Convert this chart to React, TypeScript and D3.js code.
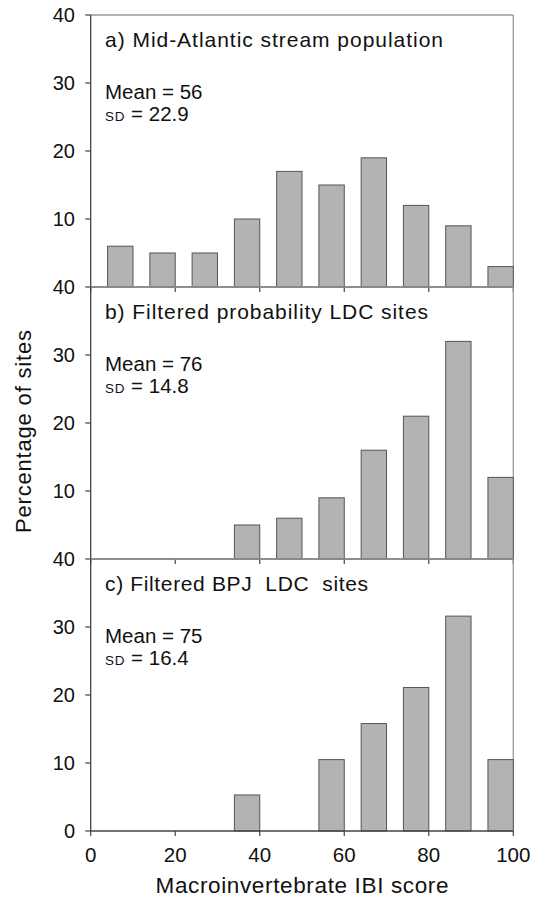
import React from 'react';
import * as d3 from 'd3';

// IBI score bins (upper edge of each 10-point class)
const binEdges = [10, 20, 30, 40, 50, 60, 70, 80, 90, 100];

const midAtlantic = [6, 5, 5, 10, 17, 15, 19, 12, 9, 3];
const probabilityLDC = [0, 0, 0, 5, 6, 9, 16, 21, 32, 12];
const bpjLDC = [0, 0, 0, 5.3, 0, 10.5, 15.8, 21.1, 31.6, 10.5];

const panelTitles = [
  'a) Mid-Atlantic stream population',
  'b) Filtered probability LDC sites',
  'c) Filtered BPJ  LDC  sites',
];
const panelMeans = ['56', '76', '75'];
const panelSDs = ['22.9', '14.8', '16.4'];

const xTicks = [0, 20, 40, 60, 80, 100];
const yTicks = [10, 20, 30, 40];

const W = 534;
const H = 897;
const FONT = "'Liberation Sans', Arial, Helvetica, sans-serif";

const App: React.FC = () => {
  const series = [midAtlantic, probabilityLDC, bpjLDC];
  const margin = { top: 15, left: 90.7, right: 513.3 };
  const panelH = 272;

  const x = d3.scaleLinear().domain([0, 100]).range([margin.left, margin.right]);
  const barW = 6; // bar occupies the upper 6 units of each bin

  return (
    <div style={{ position: 'absolute', left: 0, top: 0 }}>
      <svg width={W} height={H} style={{ display: 'block', background: '#fff' }} fontFamily={FONT}>
        {series.map((vals, p) => {
          const top = margin.top + p * panelH;
          const y = d3.scaleLinear().domain([0, 40]).range([top + panelH, top]);
          const ticks = p === series.length - 1 ? [0, ...yTicks] : yTicks;
          return (
            <g key={p}>
              {/* frame */}
              <line x1={x(0)} x2={x(100)} y1={y(40)} y2={y(40)} stroke="#999" strokeWidth={1.3} />
              <line x1={x(100)} x2={x(100)} y1={y(40)} y2={y(0)} stroke="#999" strokeWidth={1.3} />
              {vals.map((v, i) =>
                v > 0 ? (
                  <rect
                    key={i}
                    x={x(binEdges[i] - barW)}
                    width={x(binEdges[i]) - x(binEdges[i] - barW)}
                    y={y(v)}
                    height={y(0) - y(v)}
                    fill="#b3b3b3"
                    stroke="#555"
                    strokeWidth={1}
                  />
                ) : null
              )}
              {/* axes */}
              <line x1={x(0)} x2={x(0)} y1={y(40)} y2={y(0)} stroke="#444" strokeWidth={1.3} />
              <line x1={x(0)} x2={x(100)} y1={y(0)} y2={y(0)} stroke="#444" strokeWidth={1.3} />
              {xTicks.map((t) => (
                <line key={t} x1={x(t)} x2={x(t)} y1={y(0)} y2={y(0) + 5} stroke="#444" strokeWidth={1.2} />
              ))}
              {ticks.map((t) => (
                <g key={t}>
                  <line x1={x(0) - 5.5} x2={x(0)} y1={y(t)} y2={y(t)} stroke="#444" strokeWidth={1.2} />
                  <text x={75} y={y(t)} dy="0.36em" textAnchor="end" fontSize={20} fill="#111">
                    {t}
                  </text>
                </g>
              ))}
              <text
                x={105}
                y={top + 32}
                fontSize={21}
                fill="#111"
                textLength={[338, 323, 263][p]}
                lengthAdjust="spacing"
                style={{ whiteSpace: 'pre' }}
              >
                {panelTitles[p]}
              </text>
              <text x={105} y={top + 84} fontSize={20.5} fill="#111">
                Mean = {panelMeans[p]}
              </text>
              <text x={105} y={top + 106} fill="#111">
                <tspan fontSize={13.5} letterSpacing={0.8}>SD</tspan>
                <tspan fontSize={20.5}> = {panelSDs[p]}</tspan>
              </text>
            </g>
          );
        })}
        {xTicks.map((t) => (
          <text key={t} x={x(t)} y={862} textAnchor="middle" fontSize={20.5} fill="#111">
            {t}
          </text>
        ))}
        <text x={(x(0) + x(100)) / 2} y={893} textAnchor="middle" fontSize={22.5} fill="#111" textLength={293} lengthAdjust="spacing">
          Macroinvertebrate IBI score
        </text>
        <text
          transform={`translate(31,${431.5}) rotate(-90)`}
          textAnchor="middle"
          fontSize={22}
          fill="#111"
          textLength={203}
          lengthAdjust="spacing"
        >
          Percentage of sites
        </text>
      </svg>
    </div>
  );
};

export default App;
